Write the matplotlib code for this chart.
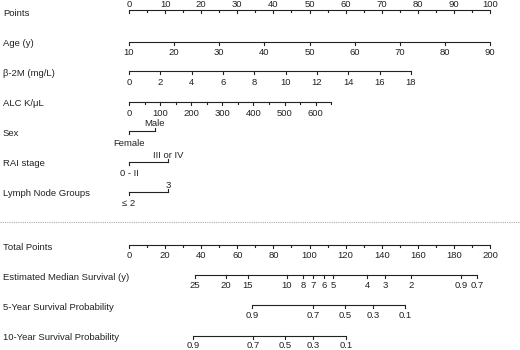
import numpy as np
import matplotlib
matplotlib.use("Agg")
import matplotlib.pyplot as plt

plt.rcParams['font.family'] = ['Liberation Sans', 'DejaVu Sans']

# predictor scales: tick values and the points they map to
points_ticks = [0, 10, 20, 30, 40, 50, 60, 70, 80, 90, 100]

age_ticks = [10, 20, 30, 40, 50, 60, 70, 80, 90]
age_span = [10, 90]
age_pts = [0, 100]

b2m_ticks = [0, 2, 4, 6, 8, 10, 12, 14, 16, 18]
b2m_span = [0, 18]
b2m_pts = [0, 78.1]

alc_ticks = [0, 100, 200, 300, 400, 500, 600]
alc_minor_ticks = [50, 150, 250, 350, 450, 550, 650]
alc_span = [0, 650]
alc_pts = [0, 56.0]

sex_labels = ["Female", "Male"]
sex_pts = [0, 7.2]
rai_labels = ["0 - II", "III or IV"]
rai_pts = [0, 10.8]
lymph_labels = ["\u2264 2", "3"]
lymph_pts = [0, 10.8]

# outcome scales against total points
total_ticks = [0, 20, 40, 60, 80, 100, 120, 140, 160, 180, 200]
median_labels = ["25", "20", "15", "10", "8", "7", "6", "5", "4", "3", "2", "0.9", "0.7"]
median_total = [36.6, 53.7, 65.9, 87.5, 96.4, 101.9, 108.0, 113.0, 131.9, 141.8, 156.2, 183.9, 192.8]
surv5_labels = ["0.9", "0.7", "0.5", "0.3", "0.1"]
surv5_total = [68.1, 101.9, 119.6, 135.2, 152.9]
surv10_labels = ["0.9", "0.7", "0.5", "0.3", "0.1"]
surv10_total = [35.5, 68.7, 86.4, 101.9, 120.2]

px = 3.61  # pixels per point
x0 = 129
fig = plt.figure(figsize=(5.2, 3.5), dpi=100)
ax = fig.add_axes([0, 0, 1, 1])
ax.set_xlim(-x0 / px, (520 - x0) / px)
ax.set_ylim(350, 0)
ax.axis('off')

fs = 6.8
col = '#222222'
lw = 0.8


def row_label(y, text):
    ax.text((3 - x0) / px, y, text, fontsize=fs, va='center', ha='left', color=col)


def scale(y, pos, labels, minor=None, up=False, off=13):
    allpos = list(pos) + (list(minor) if minor is not None else [])
    ax.plot([min(allpos), max(allpos)], [y, y], color=col, lw=lw, solid_capstyle='butt')
    for p in pos:
        ax.plot([p, p], [y, y + 3], color=col, lw=lw)
    if minor is not None:
        for p in minor:
            ax.plot([p, p], [y, y + 2], color=col, lw=lw)
    for p, t in zip(pos, labels):
        if up:
            ax.text(p, y - 3, t, fontsize=fs, ha='center', va='baseline', color=col)
        else:
            ax.text(p, y + off, t, fontsize=fs, ha='center', va='baseline', color=col)


def binary(y, pts, labels):
    ax.plot(pts, [y, y], color=col, lw=lw)
    ax.plot([pts[0], pts[0]], [y, y + 3], color=col, lw=lw)
    ax.plot([pts[1], pts[1]], [y, y - 3], color=col, lw=lw)
    ax.text(pts[0], y + 14.5, labels[0], fontsize=fs, ha='center', va='baseline', color=col)
    ax.text(pts[1], y - 4.5, labels[1], fontsize=fs, ha='center', va='baseline', color=col)


# Points
row_label(14, "Points")
scale(10, points_ticks, [str(v) for v in points_ticks],
      minor=[v + 5 for v in points_ticks[:-1]], up=True)

row_label(44, "Age (y)")
scale(42, np.interp(age_ticks, age_span, age_pts), [str(v) for v in age_ticks])

row_label(73, "\u03b2-2M (mg/L)")
scale(71, np.interp(b2m_ticks, b2m_span, b2m_pts), [str(v) for v in b2m_ticks], off=14)

row_label(103, "ALC K/\u03bcL")
scale(102, np.interp(alc_ticks, alc_span, alc_pts), [str(v) for v in alc_ticks],
      minor=np.interp(alc_minor_ticks, alc_span, alc_pts), off=14)

row_label(133, "Sex")
binary(131, sex_pts, sex_labels)
row_label(163, "RAI stage")
binary(162, rai_pts, rai_labels)
row_label(193, "Lymph Node Groups")
binary(192, lymph_pts, lymph_labels)

ax.plot(ax.get_xlim(), [222, 222], color='#aaaaaa', lw=0.8, ls=(0, (1, 1)))

# total points axis: 200 total points span the same width as 100 points
tp = lambda v: np.asarray(v) / 2.0
row_label(247, "Total Points")
scale(245, tp(total_ticks), [str(v) for v in total_ticks],
      minor=tp([v + 10 for v in total_ticks[:-1]]), off=12.5)

row_label(277, "Estimated Median Survival (y)")
scale(275, tp(median_total), median_labels, off=12.5)

row_label(307, "5-Year Survival Probability")
scale(305, tp(surv5_total), surv5_labels, off=12.5)

row_label(337, "10-Year Survival Probability")
scale(336, tp(surv10_total), surv10_labels, off=12.5)

fig.savefig("out.png", dpi=100)
